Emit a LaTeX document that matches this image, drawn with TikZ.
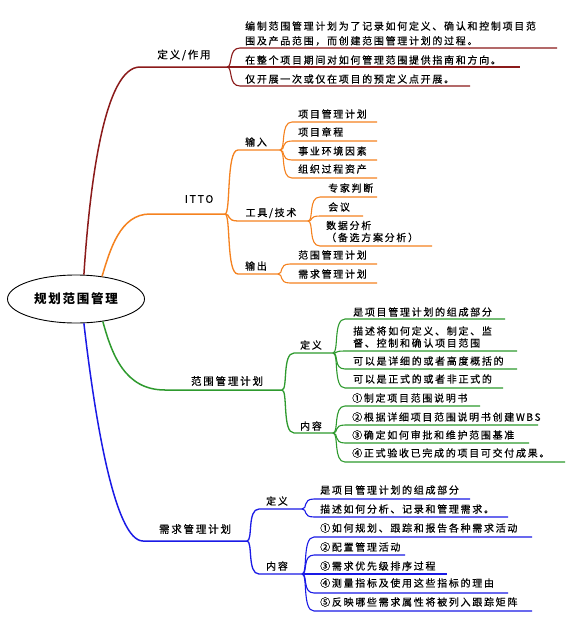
\documentclass[tikz,border=0pt]{standalone}
\usepackage{fontspec}
\usetikzlibrary{shapes.geometric,calc}
\newfontfamily\cjk[LetterSpace=17,FakeBold=0.4]{Noto Sans CJK SC}
\newfontfamily\cjkroot[LetterSpace=14]{Noto Sans CJK SC}
\definecolor{cR}{HTML}{8B1A1A}
\definecolor{cO}{HTML}{F5821F}
\definecolor{cG}{HTML}{2E9A2E}
\definecolor{cB}{HTML}{1A1AE6}
\tikzset{
  txt/.style={anchor=west, inner sep=0pt, align=left, text=black, font=\cjk\fontsize{10}{12}\selectfont},
  lbl/.style={inner sep=0pt, text=black, font=\cjk\fontsize{10}{12}\selectfont},
  lblone/.style={inner sep=0pt, text=black, font=\cjk\fontsize{10.5}{12}\selectfont},
  mainbr/.style={line width=1.5pt},
  midbr/.style={line width=1.3pt},
  subbr/.style={line width=1.1pt},
}
\newcommand\mmkid[6]{%
  \coordinate (#1a) at (#3,#4);
  \coordinate (#1b) at (#5,#4);
  \draw[#6] (#2) .. controls +(6,0) and +(-12,0) .. (#1a) -- (#1b);}
\begin{document}
\begin{tikzpicture}[x=1pt,y=-1pt]
\useasboundingbox (0,0) rectangle (566,622);
\fill[white] (0,0) rectangle (566,622);

% root
\node[ellipse, draw=black, line width=0.9pt, minimum width=137pt, minimum height=48pt, inner sep=0pt,
      font=\cjkroot\fontsize{12.5}{14}\selectfont\bfseries] (root) at (76,299) {规划范围管理};

% ---------- branch 1 : 定义/作用 ----------
\coordinate (A0) at (140,67);
\coordinate (AJ) at (227,67);
\draw[mainbr,cR] (root.72) .. controls (90,180) and (105,67) .. (A0) -- (AJ);
\node[lblone] (At) at (184,55) {定义/作用};
\mmkid{A1}{AJ}{240}{48}{557}{subbr,cR}
\mmkid{A2}{AJ}{240}{67}{520}{subbr,cR}
\mmkid{A3}{AJ}{240}{86}{470}{subbr,cR}
\node[txt] (A1t) at (245,33.5) {编制范围管理计划为了记录如何定义、确认和控制项目范\\[2.7pt]围及产品范围，而创建范围管理计划的过程。};
\node[txt] (A2t) at (245,60) {在整个项目期间对如何管理范围提供指南和方向。};
\node[txt] (A3t) at (245,79) {仅开展一次或仅在项目的预定义点开展。};

% ---------- branch 2 : ITTO ----------
\coordinate (B0) at (150,214);
\coordinate (BJ) at (225,214);
\draw[mainbr,cO] (root.41) .. controls (110,250) and (120,214) .. (B0) -- (BJ);
\node[lblone] (Bt) at (199,199) {ITTO};
\mmkid{B1}{BJ}{238}{150}{280}{midbr,cO}
\mmkid{B2}{BJ}{238}{221}{308}{midbr,cO}
\mmkid{B3}{BJ}{238}{274}{278}{midbr,cO}
\node[lbl] (B1t) at (256,142) {输入};
\node[lbl] (B2t) at (271,213) {工具/技术};
\node[lbl] (B3t) at (256,266) {输出};
% 输入
\mmkid{B11}{B1b}{292}{122}{377}{subbr,cO}
\mmkid{B12}{B1b}{292}{141}{377}{subbr,cO}
\mmkid{B13}{B1b}{292}{160}{377}{subbr,cO}
\mmkid{B14}{B1b}{292}{178}{377}{subbr,cO}
\node[txt] (B11t) at (298,114) {项目管理计划};
\node[txt] (B12t) at (298,132) {项目章程};
\node[txt] (B13t) at (298,151) {事业环境因素};
\node[txt] (B14t) at (298,169) {组织过程资产};
% 工具/技术
\mmkid{B21}{B2b}{320}{197}{377}{subbr,cO}
\mmkid{B22}{B2b}{320}{216}{363}{subbr,cO}
\mmkid{B23}{B2b}{320}{246}{432}{subbr,cO}
\node[txt] (B21t) at (328,188) {专家判断};
\node[txt] (B22t) at (328,207) {会议};
\node[txt] (B23t) at (326,231.5) {数据分析\\（备选方案分析）};
% 输出
\mmkid{B31}{B3b}{290}{264}{377}{subbr,cO}
\mmkid{B32}{B3b}{290}{283}{377}{subbr,cO}
\node[txt] (B31t) at (298,255) {范围管理计划};
\node[txt] (B32t) at (298,274) {需求管理计划};

% ---------- branch 3 : 范围管理计划 ----------
\coordinate (C0) at (165,390);
\coordinate (CJ) at (282,390);
\draw[mainbr,cG] (root.-40) .. controls (112,355) and (125,390) .. (C0) -- (CJ);
\node[lblone] (Ct) at (227,381) {范围管理计划};
\mmkid{C1}{CJ}{294}{353}{333}{midbr,cG}
\mmkid{C2}{CJ}{294}{433}{333}{midbr,cG}
\node[lbl] (C1t) at (311,345) {定义};
\node[lbl] (C2t) at (311,426) {内容};
% 定义
\mmkid{C11}{C1b}{345}{319}{505}{subbr,cG}
\mmkid{C12}{C1b}{345}{351}{517}{subbr,cG}
\mmkid{C13}{C1b}{345}{369}{517}{subbr,cG}
\mmkid{C14}{C1b}{345}{388}{503}{subbr,cG}
\node[txt] (C11t) at (353,312) {是项目管理计划的组成部分};
\node[txt] (C12t) at (353,337) {描述将如何定义、制定、监\\督、控制和确认项目范围};
\node[txt] (C13t) at (353,361) {可以是详细的或者高度概括的};
\node[txt] (C14t) at (353,379) {可以是正式的或者非正式的};
% 内容
\mmkid{C21}{C2b}{345}{406}{480}{subbr,cG}
\mmkid{C22}{C2b}{345}{425}{538}{subbr,cG}
\mmkid{C23}{C2b}{345}{443}{529}{subbr,cG}
\mmkid{C24}{C2b}{345}{462}{565}{subbr,cG}
\node[txt] (C21t) at (352,398) {①制定项目范围说明书};
\node[txt] (C22t) at (352,417) {②根据详细项目范围说明书创建WBS};
\node[txt] (C23t) at (352,435) {③确定如何审批和维护范围基准};
\node[txt] (C24t) at (352,453) {④正式验收已完成的项目可交付成果。};

% ---------- branch 4 : 需求管理计划 ----------
\coordinate (D0) at (143,541);
\coordinate (DJ) at (247,541);
\draw[mainbr,cB] (root.-72) .. controls (95,420) and (115,541) .. (D0) -- (DJ);
\node[lblone] (Dt) at (195,529) {需求管理计划};
\mmkid{D1}{DJ}{259}{509}{302}{midbr,cB}
\mmkid{D2}{DJ}{259}{574}{302}{midbr,cB}
\node[lbl] (D1t) at (277,501) {定义};
\node[lbl] (D2t) at (277,566) {内容};
% 定义
\mmkid{D11}{D1b}{314}{499}{470}{subbr,cB}
\mmkid{D12}{D1b}{314}{517}{508}{subbr,cB}
\node[txt] (D11t) at (320,490) {是项目管理计划的组成部分};
\node[txt] (D12t) at (320,509) {描述如何分析、记录和管理需求。};
% 内容
\mmkid{D21}{D2b}{314}{537}{532}{subbr,cB}
\mmkid{D22}{D2b}{314}{555}{405}{subbr,cB}
\mmkid{D23}{D2b}{314}{574}{447}{subbr,cB}
\mmkid{D24}{D2b}{314}{593}{508}{subbr,cB}
\mmkid{D25}{D2b}{314}{611}{532}{subbr,cB}
\node[txt] (D21t) at (320,528) {①如何规划、跟踪和报告各种需求活动};
\node[txt] (D22t) at (320,547) {②配置管理活动};
\node[txt] (D23t) at (320,566) {③需求优先级排序过程};
\node[txt] (D24t) at (320,583) {④测量指标及使用这些指标的理由};
\node[txt] (D25t) at (320,602) {⑤反映哪些需求属性将被列入跟踪矩阵};
\end{tikzpicture}
\end{document}
